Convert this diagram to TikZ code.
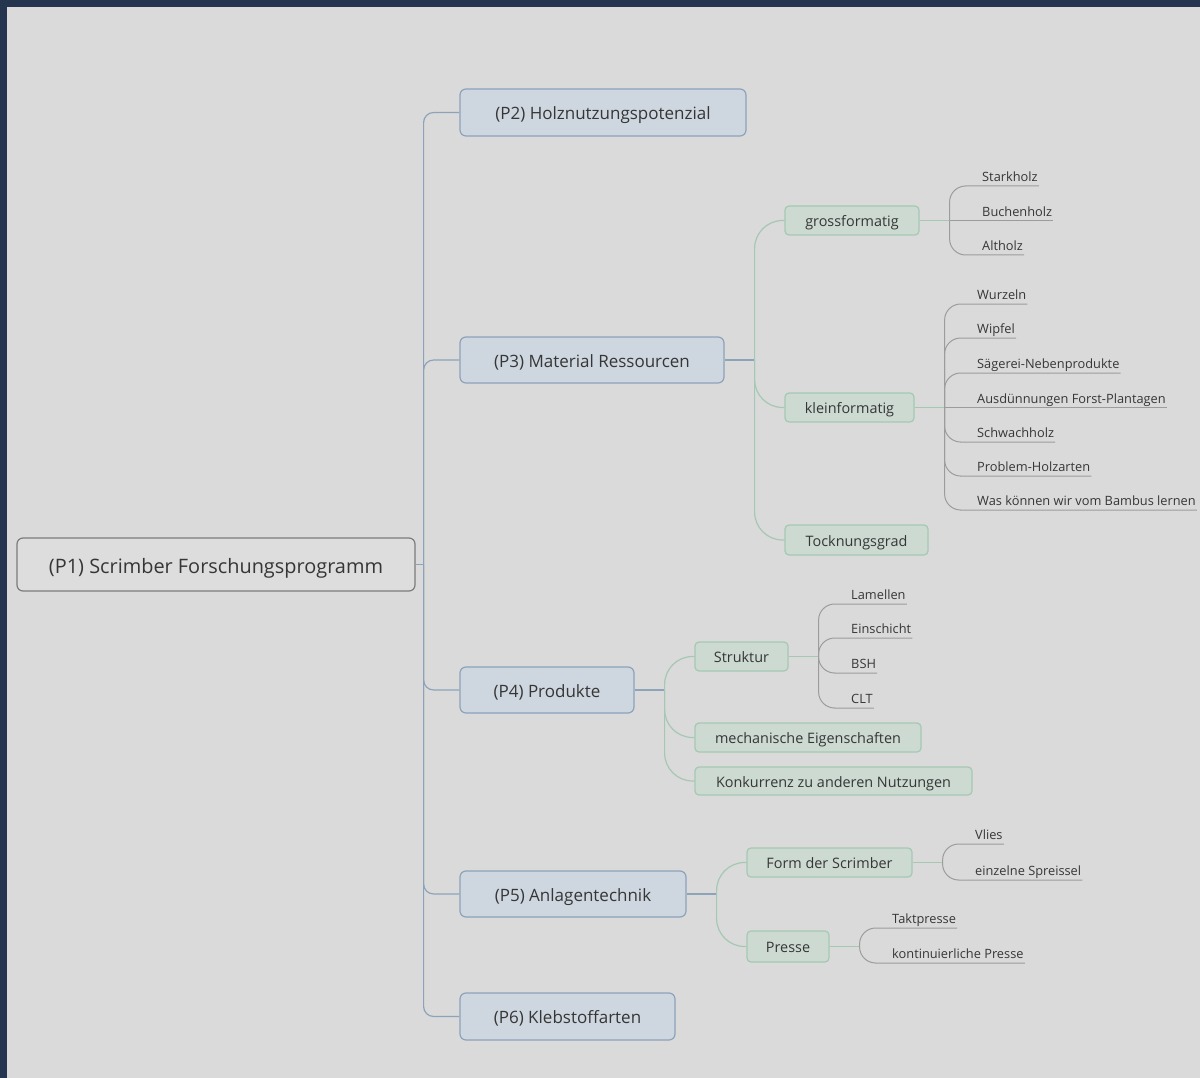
\documentclass[tikz,border=0pt]{standalone}
\usepackage{fontspec}
\setmainfont{Open Sans}
\usetikzlibrary{positioning,calc}
\definecolor{MapNavy}{HTML}{253550}
\definecolor{MapBack}{HTML}{DADADA}
\definecolor{MapInk}{HTML}{363636}
\definecolor{RootFill}{HTML}{DDDDDD}
\definecolor{RootLine}{HTML}{7C7C7C}
\definecolor{TopicFill}{HTML}{CED6DF}
\definecolor{TopicLine}{HTML}{8CA3BA}
\definecolor{SubFill}{HTML}{CCDAD2}
\definecolor{SubLine}{HTML}{A5C8B3}
\definecolor{LeafLine}{HTML}{9C9C9C}
\tikzset{
  mapbox/.style={line width=1.2pt, rounded corners=6pt, text=MapInk, inner sep=0pt},
  rootbox/.style={mapbox, draw=RootLine, fill=RootFill, text height=19.5pt, text depth=2pt, font=\fontsize{19.9}{23}\selectfont},
  topicbox/.style={mapbox, draw=TopicLine, fill=TopicFill, text height=16pt, text depth=2pt, font=\fontsize{17}{20}\selectfont},
  subbox/.style={mapbox, draw=SubLine, fill=SubFill, rounded corners=4pt, text height=14.4pt, text depth=2pt, font=\fontsize{14.4}{17}\selectfont},
  leaf/.style={anchor=south west, text=MapInk, inner xsep=1pt, inner ysep=1pt, text height=9pt, text depth=3pt, font=\fontsize{12.8}{15}\selectfont},
  topicline/.style={draw=TopicLine, line width=1.2pt},
  subline/.style={draw=SubLine, line width=1.2pt, rounded corners=28pt},
  leafline/.style={draw=LeafLine, line width=1pt, rounded corners=16pt}
}

\begin{document}
\begin{tikzpicture}[x=1pt, y=-1pt]
\useasboundingbox (0,0) rectangle (1200,1078);
\fill[MapNavy] (0,0) rectangle (1200,1078);
\fill[MapBack] (7,7) rectangle (1200,1078);

% main topics
\node[rootbox, minimum width=398pt, minimum height=53pt] (p1) at (216,564.5) {(P1) Scrimber Forschungsprogramm};
\node[topicbox, minimum width=286pt, minimum height=47pt] (p2) at (603,112.5) {(P2) Holznutzungspotenzial};
\node[topicbox, minimum width=264pt, minimum height=46pt] (p3) at (592,360) {(P3) Material Ressourcen};
\node[topicbox, minimum width=174pt, minimum height=46pt] (p4) at (547,690) {(P4) Produkte};
\node[topicbox, minimum width=226pt, minimum height=46pt] (p5) at (573,894) {(P5) Anlagentechnik};
\node[topicbox, minimum width=215pt, minimum height=47pt] (p6) at (567.5,1016.5) {(P6) Klebstoffarten};

\draw[topicline] (p1.east) -- ++(8,0) coordinate (p1fork);
\foreach \t in {p2,p3,p4,p5,p6} {
  \draw[topicline, rounded corners=10pt] (p1fork) |- (\t.west);
}

% subtopics
\node[subbox, minimum width=134pt, minimum height=29pt] (gross) at (852,220.5) {grossformatig};
\node[subbox, minimum width=129pt, minimum height=29pt] (klein) at (849.5,407.5) {kleinformatig};
\node[subbox, minimum width=143pt, minimum height=30pt] (tock) at (856.5,540) {Tocknungsgrad};
\node[subbox, minimum width=93pt, minimum height=29pt] (struk) at (741.5,656.5) {Struktur};
\node[subbox, minimum width=226pt, minimum height=29pt] (mech) at (808,737.5) {mechanische Eigenschaften};
\node[subbox, minimum width=277pt, minimum height=28pt] (konk) at (833.5,781) {Konkurrenz zu anderen Nutzungen};
\node[subbox, minimum width=165pt, minimum height=29pt] (form) at (829.5,862.5) {Form der Scrimber};
\node[subbox, minimum width=82pt, minimum height=31pt] (presse) at (788,946.5) {Presse};

\draw[topicline] (p3.east) -- ++(30,0) coordinate (p3fork);
\foreach \s in {gross,klein,tock} {
  \draw[subline] (p3fork) |- (\s.west);
}
\draw[topicline] (p4.east) -- ++(30,0) coordinate (p4fork);
\foreach \s in {struk,mech,konk} {
  \draw[subline] (p4fork) |- (\s.west);
}
\draw[topicline] (p5.east) -- ++(30,0) coordinate (p5fork);
\foreach \s in {form,presse} {
  \draw[subline] (p5fork) |- (\s.west);
}

% leaves
\draw[subline] (gross.east) -- ++(30,0) coordinate (gfork);
\node[leaf] (buch) at (981,220.5) {Buchenholz};
\draw[leafline] (gfork) -- (buch.south east);
\foreach \n/\y/\txt in {stark/186/Starkholz, alt/255/Altholz} {
  \node[leaf] (\n) at (981,\y) {\txt};
  \draw[leafline] (gfork) |- (\n.south west) -- (\n.south east);
}

\draw[subline] (klein.east) -- ++(30,0) coordinate (kfork);
\node[leaf] (ausd) at (976,407.5) {Ausdünnungen Forst-Plantagen};
\draw[leafline] (kfork) -- (ausd.south east);
\foreach \n/\y/\txt in {wurz/304/Wurzeln, wipf/338/Wipfel, saeg/373/Sägerei-Nebenprodukte,
    schw/442/Schwachholz, probl/476/Problem-Holzarten, bamb/510/Was können wir vom Bambus lernen} {
  \node[leaf] (\n) at (976,\y) {\txt};
  \draw[leafline] (kfork) |- (\n.south west) -- (\n.south east);
}

\draw[subline] (struk.east) -- ++(30,0) coordinate (sfork);
\foreach \n/\y/\txt in {lam/604/Lamellen, ein/638/Einschicht, bsh/673/BSH, clt/708/CLT} {
  \node[leaf] (\n) at (850,\y) {\txt};
  \draw[leafline] (sfork) |- (\n.south west) -- (\n.south east);
}

\draw[subline] (form.east) -- ++(30,0) coordinate (ffork);
\foreach \n/\y/\txt in {vlies/844/Vlies, spreis/880/einzelne Spreissel} {
  \node[leaf] (\n) at (974,\y) {\txt};
  \draw[leafline] (ffork) |- (\n.south west) -- (\n.south east);
}

\draw[subline] (presse.east) -- ++(30,0) coordinate (prfork);
\foreach \n/\y/\txt in {takt/928/Taktpresse, kont/963/kontinuierliche Presse} {
  \node[leaf] (\n) at (891,\y) {\txt};
  \draw[leafline] (prfork) |- (\n.south west) -- (\n.south east);
}
\end{tikzpicture}
\end{document}
